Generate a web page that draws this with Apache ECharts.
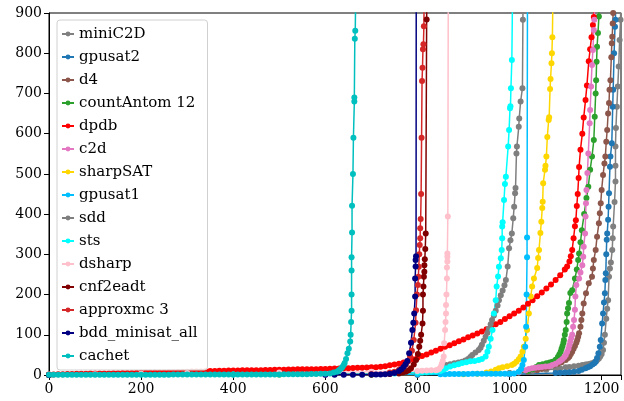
<!DOCTYPE html>
<html>
<head>
<meta charset="utf-8">
<script src="https://cdn.jsdelivr.net/npm/echarts@6/dist/echarts.min.js"></script>
<style>html,body{margin:0;padding:0;background:#fff}#c{width:624px;height:401px}</style>
</head>
<body>
<div id="c"></div>
<script>
var xTicks = [0, 200, 400, 600, 800, 1000, 1200];
var yTicks = [0, 100, 200, 300, 400, 500, 600, 700, 800, 900];
var seriesNames = ["miniC2D","gpusat2","d4","countAntom 12","dpdb","c2d","sharpSAT","gpusat1","sdd","sts","dsharp","cnf2eadt","approxmc 3","bdd_minisat_all","cachet"];
var seriesColors = ["#808080","#1f77b4","#8c564b","#2ca02c","#ff0000","#e377c2","#ffd700","#00bfff","#7f7f7f","#00ffff","#ffc0cb","#800000","#d62728","#000080","#00bfbf"];

var miniC2D = [[0,0.3],[800,1],[1000,5],[1050,10],[1080,13],[1100,15],[1110,17],[1122,19],[1130,20],[1140,22],[1150,23],[1158,25],[1165,26],[1170,27],[1175,28],[1179,29],[1184,32],[1188,35],[1191,38],[1194,41],[1197,46],[1200,52],[1203,62],[1205,80],[1207,100],[1210,140],[1212,165],[1214,186],[1216,244],[1218,265],[1220,280],[1223,311],[1224,340],[1225,369],[1228,430],[1230,481],[1230,520],[1230,568],[1231,614],[1233,667],[1235,717],[1237,767],[1239,833],[1241,883],[1242,1000]];
var gpusat2 = [[0,0.3],[800,0.6],[1000,2],[1100,5],[1110,5.5],[1120,6],[1130,7],[1140,8],[1150,10],[1157,13],[1165,17],[1170,19],[1175,22],[1180,26],[1184,29],[1187,33],[1190,42],[1193,54],[1196,70],[1198,87],[1201,128],[1203,153],[1205,180],[1207,203],[1208,236],[1209,253],[1210,300],[1211,336],[1212,352],[1214,386],[1215,418],[1216,452],[1218,518],[1219,543],[1222,576],[1224,667],[1225,709],[1227,800],[1229,866],[1230,883],[1231,1000]];
var d4 = [[0,0.3],[800,1],[1000,4],[1040,8],[1060,12],[1070,15],[1080,18],[1086,21],[1095,24],[1105,28],[1113,32],[1122,37],[1127,42],[1130,46],[1133,52],[1136,58],[1139,65],[1142,72],[1145,80],[1147,87],[1149,95],[1151,104],[1154,120],[1156,137],[1158,153],[1161,178],[1166,203],[1172,228],[1179,244],[1181,265],[1183,286],[1187,311],[1190,344],[1194,377],[1196,402],[1198,427],[1200,460],[1203,497],[1206,526],[1208,543],[1210,580],[1212,609],[1214,650],[1216,676],[1217,709],[1219,733],[1221,790],[1222,825],[1223,841],[1224,874],[1225,900],[1226,1000]];
var countAntom = [[0,0.3],[700,0.5],[1000,4],[1020,6],[1040,10],[1050,14],[1058,20],[1064,25],[1072,27],[1080,29],[1087,31],[1093,33],[1100,38],[1105,45],[1108,51],[1111,58],[1113,65],[1115,72],[1117,80],[1118,87],[1120,100],[1122,112],[1124,132],[1125,153],[1127,166],[1129,179],[1132,204],[1136,211],[1142,240],[1146,262],[1149,286],[1151,302],[1154,330],[1157,360],[1162,400],[1167,440],[1171,468],[1175,510],[1179,543],[1183,584],[1185,642],[1187,700],[1188,733],[1189,779],[1190,816],[1192,850],[1194,891],[1195,1000]];
var dpdb = [[0,1],[10,1.5],[20,2],[30,2],[40,2.5],[50,2.5],[60,3],[70,3],[80,3],[90,3.5],[100,3.5],[110,3.5],[120,4],[130,4],[140,4.5],[150,4.5],[160,5],[170,5],[180,5],[190,5.5],[200,5.5],[210,6],[220,6],[230,6],[240,6.5],[250,6.5],[260,7],[270,7],[280,7.5],[290,7.5],[300,8],[310,8.5],[320,9],[330,9],[340,9.5],[350,10],[360,10],[370,10.5],[380,10.5],[390,11],[400,11],[410,11],[420,11.5],[430,11.5],[440,12],[450,12],[460,12],[470,12.5],[480,12.5],[490,13],[500,13],[510,13],[520,13.5],[530,13.5],[540,14],[550,14],[560,14],[570,14.5],[580,14.5],[590,15],[600,15],[610,15.5],[620,16],[630,16],[640,16.5],[650,17],[660,17.5],[670,18],[680,18],[690,18.5],[700,19],[710,19.5],[720,20.5],[730,22],[740,24],[750,26],[760,28],[770,31],[780,35],[790,39],[800,43],[810,47],[820,51],[830,56],[840,60],[850,65],[860,70],[870,74],[880,79],[890,84],[900,88],[910,94],[920,98],[930,103],[940,108],[950,114],[960,120],[970,126],[980,132],[990,139],[1000,146],[1010,153],[1020,160],[1030,168],[1040,177],[1050,186],[1060,196],[1070,205],[1080,215],[1090,225],[1100,236],[1110,248],[1120,262],[1125,270],[1130,282],[1133,295],[1136,311],[1139,340],[1142,370],[1144,385],[1146,420],[1148,450],[1150,490],[1151,517],[1154,560],[1158,600],[1161,640],[1165,684],[1168,720],[1172,780],[1175,810],[1178,840],[1181,870],[1183,890],[1185,1000]];
var c2d = [[0,0.3],[600,0.5],[1000,3],[1020,6],[1035,12],[1042,15],[1049,17],[1056,18],[1063,19],[1070,20],[1078,21],[1086,22],[1093,25],[1100,28],[1107,33],[1111,36],[1115,40],[1119,45],[1122,50],[1125,57],[1128,65],[1130,74],[1132,83],[1134,92],[1136,100],[1138,120],[1140,137],[1142,162],[1143,195],[1145,224],[1151,240],[1154,255],[1158,273],[1160,294],[1161,319],[1164,352],[1165,394],[1166,427],[1167,460],[1169,502],[1171,551],[1174,626],[1175,659],[1177,717],[1179,771],[1181,808],[1183,858],[1184,883],[1186,1000]];
var sharpSAT = [[0,0.3],[500,0.5],[900,2],[930,3],[950,6],[960,9],[970,13],[977,17],[985,19],[995,22],[1005,25],[1010,28],[1015,33],[1020,39],[1024,46],[1028,58],[1031,70],[1035,90],[1038,112],[1042,153],[1046,195],[1049,220],[1053,240],[1060,266],[1062,291],[1064,311],[1067,353],[1069,381],[1071,415],[1072,431],[1073,477],[1077,510],[1078,520],[1080,543],[1082,592],[1085,634],[1086,641],[1088,711],[1089,736],[1091,775],[1092,800],[1093,840],[1095,1000]];
var gpusat1 = [[0,0.5],[500,1],[800,2],[850,2],[860,2],[870,2.5],[880,2.5],[890,2.5],[900,2.5],[910,2.5],[920,3],[930,3],[940,3],[950,3],[960,3],[970,3],[980,3],[990,3],[1000,3],[1010,4],[1020,8],[1025,15],[1028,25],[1031,37],[1034,70],[1036,120],[1037,200],[1038,293],[1038,342],[1039,1000]];
var sdd = [[0,0.5],[400,1],[700,3],[800,6],[820,8],[840,10],[848,14],[854,17],[862,25],[871,27],[880,29],[889,31],[897,33],[904,36],[910,40],[915,45],[919,50],[926,56],[933,62],[937,68],[940,75],[944,85],[948,95],[952,105],[955,115],[959,126],[962,137],[966,148],[970,160],[974,173],[977,186],[981,198],[985,210],[989,223],[992,236],[996,270],[999,315],[1002,335],[1005,352],[1008,390],[1010,418],[1012,452],[1013,465],[1015,551],[1016,568],[1020,617],[1021,638],[1024,680],[1028,713],[1029,883],[1030,1000]];
var sts = [[0,0.5],[400,1],[700,3],[750,4],[800,6],[810,6.5],[820,7],[830,8],[840,9],[850,10],[856,13],[862,17],[871,21],[880,24],[889,27],[897,30],[906,32],[915,34],[924,35],[933,37],[940,40],[948,46],[952,58],[955,70],[959,90],[963,112],[966,153],[970,186],[972,220],[975,245],[977,269],[981,290],[983,311],[984,340],[984,369],[985,380],[988,435],[990,475],[992,493],[997,568],[999,609],[1001,663],[1002,668],[1003,713],[1005,783],[1007,1000]];
var dsharp = [[0,1],[100,2],[200,3],[300,5],[500,6],[700,8],[800,10],[810,10.5],[820,11],[830,11.5],[840,12],[844,13],[847,15],[851,21],[853,28],[855,35],[857,46],[858,79],[860,112],[861,132],[862,153],[862,174],[863,200],[864,240],[864,267],[865,282],[865,294],[865,302],[866,394],[867,1000]];
var cnf2eadt = [[0,0.5],[700,1.5],[740,2.5],[760,4],[768,6],[775,8],[781,12],[786,17],[792,26],[797,37],[801,52],[804,70],[806,85],[808,100],[811,128],[812,160],[812,200],[813,220],[814,244],[815,257],[815,273],[816,288],[817,313],[818,352],[820,884],[821,1000]];
var approxmc = [[0,0.5],[700,2],[740,6],[750,8],[760,13],[770,20],[775,27],[780,35],[784,47],[788,60],[792,87],[796,130],[797,161],[799,200],[801,224],[802,244],[803,269],[804,300],[805,323],[806,340],[806,365],[807,388],[808,450],[809,590],[810,731],[811,764],[812,810],[813,822],[814,867],[815,1000]];
var bddMinisatAll = [[0,0.3],[600,0.5],[620,0.5],[640,0.6],[660,0.7],[680,0.8],[700,1],[710,1.2],[720,1.5],[730,2],[740,3],[750,5],[760,10],[765,14],[770,20],[774,27],[778,35],[782,54],[786,80],[789,112],[791,130],[793,153],[795,195],[795,240],[796,270],[796,286],[797,295],[798,2000]];
var cachet = [[0,0.5],[10,0.5],[20,0.5],[30,0.5],[40,0.5],[50,0.5],[60,0.5],[70,0.5],[80,0.5],[90,0.5],[100,0.5],[110,0.6],[120,0.6],[130,0.6],[140,0.6],[150,0.7],[160,0.7],[170,0.7],[180,0.7],[190,0.8],[200,0.8],[210,0.8],[220,0.8],[230,0.9],[240,0.9],[250,0.9],[260,0.9],[270,1],[280,1],[290,1],[300,1],[310,1],[320,1.1],[330,1.1],[340,1.1],[350,1.1],[360,1.2],[370,1.2],[380,1.2],[390,1.2],[400,1.2],[410,1.3],[420,1.3],[430,1.3],[440,1.4],[450,1.4],[460,1.4],[470,1.5],[480,1.5],[490,1.5],[500,1.5],[510,1.6],[520,1.7],[530,1.8],[540,1.9],[550,2],[560,2.1],[570,2.3],[580,2.5],[590,2.8],[600,3.2],[610,4],[618,6],[625,8],[629,11],[632,14],[635,17],[637,20],[640,25],[642,30],[645,40],[648,54],[651,65],[654,83],[655,100],[656,132],[657,160],[657,200],[657,260],[657,293],[658,354],[658,421],[660,500],[661,590],[663,680],[663,690],[664,836],[665,856],[666,950]];

var seriesData = [miniC2D, gpusat2, d4, countAntom, dpdb, c2d, sharpSAT, gpusat1, sdd, sts, dsharp, cnf2eadt, approxmc, bddMinisatAll, cachet];

var FONT = "DejaVu Serif";
var chart = echarts.init(document.getElementById('c'), null, {renderer: 'canvas'});
var series = seriesNames.map(function (n, i) {
  return {
    name: n, type: 'line', data: seriesData[i],
    symbol: 'circle', symbolSize: 6, showSymbol: true,
    lineStyle: {width: 1.5, color: seriesColors[i]},
    itemStyle: {color: seriesColors[i]},
    clip: true, animation: false, emphasis: {disabled: true}
  };
});
chart.setOption({
  animation: false,
  backgroundColor: '#fff',
  color: seriesColors,
  grid: {left: 49, top: 13, right: 2, bottom: 26, show: true, borderColor: '#000', borderWidth: 1, backgroundColor: 'transparent'},
  xAxis: {
    type: 'value', min: 0, max: 1242, interval: 200,
    axisLine: {show: true, lineStyle: {color: '#000', width: 1}},
    axisTick: {show: true, length: 5, lineStyle: {color: '#000'}},
    axisLabel: {fontFamily: FONT, fontSize: 14, color: '#000', margin: 7,
      formatter: function (v) { return xTicks.indexOf(v) >= 0 ? String(v) : ''; }},
    splitLine: {show: false}
  },
  yAxis: {
    type: 'value', min: 0, max: 900, interval: 100,
    axisLine: {show: true, lineStyle: {color: '#000', width: 1}},
    axisTick: {show: true, length: 5, lineStyle: {color: '#000'}},
    axisLabel: {fontFamily: FONT, fontSize: 14, color: '#000', margin: 7,
      formatter: function (v) { return yTicks.indexOf(v) >= 0 ? String(v) : ''; }},
    splitLine: {show: false}
  },
  legend: {
    orient: 'vertical', left: 57, top: 20,
    padding: [6, 10, 6, 4],
    itemWidth: 12, itemHeight: 6, itemGap: 7,
    backgroundColor: 'rgba(255,255,255,0.85)', borderColor: '#d0d0d0', borderWidth: 1, borderRadius: 3,
    textStyle: {fontFamily: FONT, fontSize: 15, color: '#000', lineHeight: 16},
    data: seriesNames.map(function (n) { return {name: n}; })
  },
  series: series
});
</script>
</body>
</html>
